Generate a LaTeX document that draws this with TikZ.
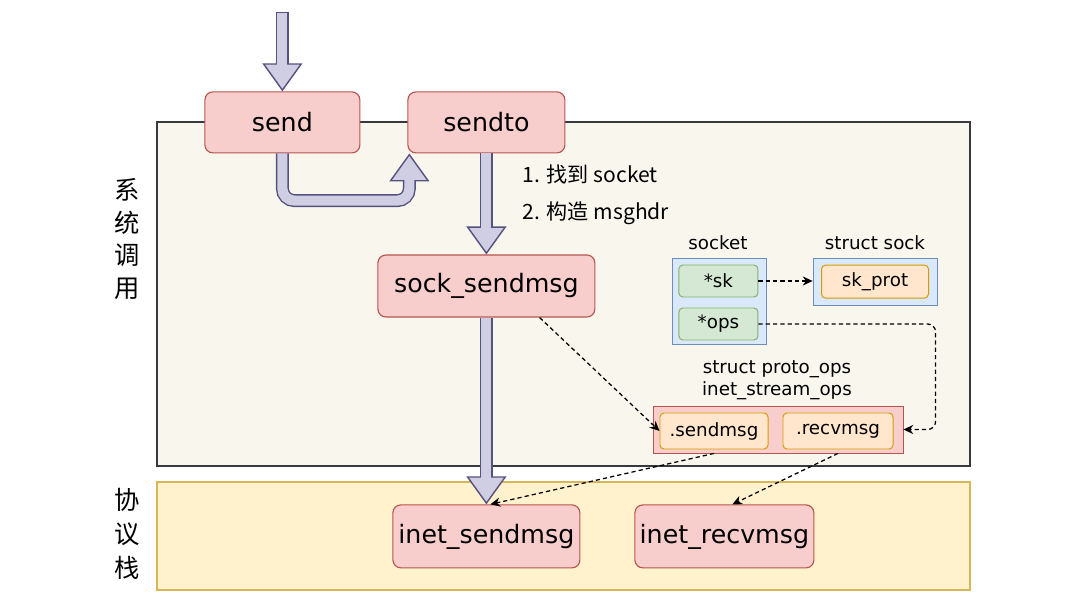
\documentclass[tikz,border=0pt]{standalone}
\usepackage{fontspec}
\setmainfont{DejaVu Sans}
\newfontfamily\cjk{Noto Sans CJK SC}
\usetikzlibrary{arrows.meta}

\definecolor{redbg}{HTML}{F8CECC}
\definecolor{redline}{HTML}{B85450}
\definecolor{fatfill}{HTML}{D0CEE2}
\definecolor{fatline}{HTML}{56517E}
\definecolor{sysbg}{HTML}{F9F7ED}
\definecolor{sysline}{HTML}{36393D}
\definecolor{stackbg}{HTML}{FFF2CC}
\definecolor{stackline}{HTML}{D6B656}
\definecolor{bluebg}{HTML}{DAE8FC}
\definecolor{blueline}{HTML}{6C8EBF}
\definecolor{greenbg}{HTML}{D5E8D4}
\definecolor{greenline}{HTML}{82B366}
\definecolor{orangebg}{HTML}{FFE6CC}
\definecolor{orangeline}{HTML}{D79B00}

\tikzset{
    func/.style={draw=redline, fill=redbg, rounded corners=0.2cm, line width=0.8pt,
        font=\fontsize{18}{20}\selectfont},
    holder/.style={draw=#1line, fill=#1bg, line width=0.6pt},
    field/.style={draw=#1line, fill=#1bg, rounded corners=0.1cm, line width=0.7pt,
        font=\fontsize{13}{15}\selectfont},
    small/.style={font=\fontsize{13}{15}\selectfont},
    fatouter/.style={draw=fatline, line width=9.2pt,
        -{Triangle[width=1cm,length=0.7cm,fill=fatfill,line width=1pt]}},
    fatinner/.style={draw=fatfill, line width=7.2pt, shorten >=0.66cm},
    dashto/.style={dash pattern=on 3pt off 2.2pt, line width=0.9pt, -{Stealth[length=7pt,width=6.5pt]}}
}

% big hollow arrow: outline first, then the filling on top
\newcommand{\bigarrow}[2][0pt]{\draw[fatouter] #2; \draw[fatinner, shorten <=#1] #2;}

\begin{document}
\begin{tikzpicture}
    \useasboundingbox (0,0) rectangle (27.3,15.35);

    % layers
    \draw[holder=sys, line width=0.8pt] (3.925,3.7) rectangle (24.25,12.3);
    \draw[holder=stack, line width=0.8pt] (3.925,0.6) rectangle (24.25,3.3);
    \node[font=\cjk\fontsize{18}{23.2}\selectfont, align=center] (syslbl) at (3.175,9.375) {系\\统\\调\\用};
    \node[font=\cjk\fontsize{18}{24.1}\selectfont, align=center] (stacklbl) at (3.175,2.0) {协\\议\\栈};

    % functions
    \node[func, minimum width=3.875cm, minimum height=1.525cm] (send) at (7.06,12.29) {send};
    \node[func, minimum width=3.925cm, minimum height=1.525cm] (sendto) at (12.16,12.29) {sendto};
    \node[func, minimum width=5.425cm, minimum height=1.55cm] (sendmsg) at (12.16,8.2) {sock\_sendmsg};
    \node[func, minimum width=4.675cm, minimum height=1.575cm] (inetsend) at (12.16,1.94) {inet\_sendmsg};
    \node[func, minimum width=4.475cm, minimum height=1.575cm] (inetrecv) at (18.11,1.94) {inet\_recvmsg};

    \node[font=\cjk\fontsize{15}{26.2}\selectfont, align=left, anchor=west] (steps) at (12.95,10.49)
        {1. 找到 socket\\2. 构造 msghdr};

    % socket and struct sock
    \node[small] (socketlbl) at (17.95,9.275) {socket};
    \node[holder=blue, minimum width=2.35cm, minimum height=2.15cm] (socket) at (17.975,7.825) {};
    \node[field=green, minimum width=1.975cm, minimum height=0.8cm] (sk) at (17.96,8.325) {*sk};
    \node[field=green, minimum width=1.975cm, minimum height=0.8cm] (ops) at (17.96,7.25) {*ops};
    \node[small] (socklbl) at (21.875,9.275) {struct sock};
    \node[holder=blue, minimum width=3.1cm, minimum height=1.175cm] (sock) at (21.875,8.31) {};
    \node[field=orange, minimum width=2.675cm, minimum height=0.825cm] (skprot) at (21.875,8.31) {sk\_prot};

    % inet_stream_ops
    \node[small, align=center] (opslbl) at (19.425,5.85) {struct proto\_ops\\[1pt]inet\_stream\_ops};
    \node[holder=red, minimum width=6.25cm, minimum height=1.175cm] (opsbox) at (19.45,4.6125) {};
    \node[field=orange, minimum width=2.7cm, minimum height=0.9cm] (dsend) at (17.85,4.575) {.sendmsg};
    \node[field=orange, minimum width=2.75cm, minimum height=0.9cm] (drecv) at (20.95,4.575) {.recvmsg};

    % call flow
    \coordinate (entry) at (7.06,15.05);
    \bigarrow[1pt]{(entry) -- (send.north)}
    \bigarrow{[rounded corners=0.3cm] (send.south) -- ++(0,-1.18) -| ([xshift=0.05cm]sendto.south west)}
    \bigarrow{(sendto.south) -- (sendmsg.north)}
    \bigarrow{(sendmsg.south) -- (inetsend.north)}

    % pointers
    \draw[dashto] (sk.east) -- (sk.east -| sock.west);
    \draw[dashto, rounded corners=0.2cm] (ops.east) -- ++(4.43,0) |- (opsbox.east);
    \draw[dashto] ([xshift=1.33cm]sendmsg.south) -- (dsend.west);
    \draw[dashto] (dsend.south |- opsbox.south) -- ([xshift=0.1cm]inetsend.north);
    \draw[dashto] (drecv.south |- opsbox.south) -- ([xshift=0.2cm]inetrecv.north);
\end{tikzpicture}
\end{document}
